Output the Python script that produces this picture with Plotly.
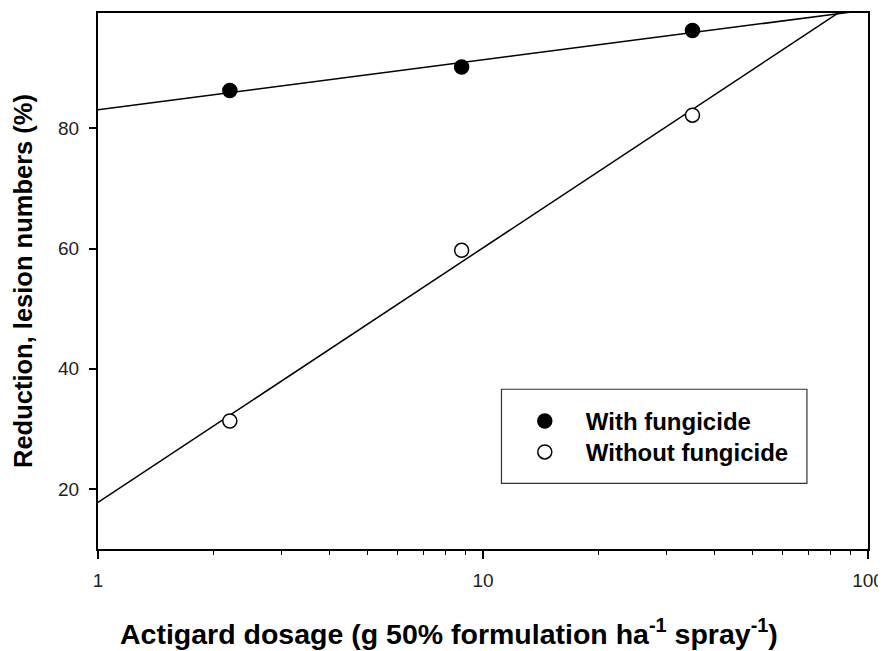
import numpy as np
import plotly.graph_objects as go

# Data
dosage = [2.2, 8.8, 35]
with_fungicide = [86.3, 90.2, 96.3]
without_fungicide = [31.3, 59.7, 82.2]
x_tickvals = [1, 10, 100]
x_ticktext = ["1", "10", "100"]
x_minor_ticks = [2, 3, 4, 5, 6, 7, 8, 9, 20, 30, 40, 50, 60, 70, 80, 90]
y_tickvals = [20, 40, 60, 80]
x_title = "Actigard dosage (g 50% formulation ha<sup>-1</sup> spray<sup>-1</sup>)"
y_title = "Reduction, lesion numbers (%)"

FONT = "Liberation Sans, Arial, sans-serif"

def fit_line(x, y):
    lx = np.log10(np.array(x, dtype=float))
    slope, intercept = np.polyfit(lx, np.array(y, dtype=float), 1)
    xs = np.array([1.0, 100.0])
    return xs, intercept + slope * np.log10(xs)

fig = go.Figure()

for ys in (with_fungicide, without_fungicide):
    lx, ly = fit_line(dosage, ys)
    fig.add_trace(go.Scatter(x=lx, y=ly, mode="lines", line=dict(color="black", width=1.5),
                             showlegend=False, hoverinfo="skip"))

fig.add_trace(go.Scatter(x=dosage, y=with_fungicide, mode="markers", name="With fungicide",
                         legend="legend",
                         marker=dict(symbol="circle", size=14, color="black",
                                     line=dict(color="black", width=1.5)), cliponaxis=False))
fig.add_trace(go.Scatter(x=dosage, y=without_fungicide, mode="markers", name="Without fungicide",
                         legend="legend2",
                         marker=dict(symbol="circle", size=14, color="white",
                                     line=dict(color="black", width=1.5)), cliponaxis=False))

# legend box
fig.add_shape(type="rect", xref="paper", yref="paper", x0=0.524, x1=0.9207, y0=0.1226, y1=0.298,
              line=dict(color="#333333", width=1.2), fillcolor="rgba(0,0,0,0)")

# x-axis title (offset left as in the reference)
fig.add_annotation(text=x_title, xref="paper", yref="paper", x=0.4555, y=-0.155,
                   xanchor="center", yanchor="middle", showarrow=False,
                   font=dict(family=FONT, size=28.5, color="black", weight="bold"))

legend_common = dict(xanchor="left", yanchor="middle", bgcolor="rgba(0,0,0,0)", borderwidth=0,
                     font=dict(family=FONT, size=24, color="black", weight="bold"),
                     itemwidth=72)

# the page body adds an 8px offset, so the figure is 8px smaller and margins compensate
fig.update_layout(
    width=878, height=643,
    margin=dict(l=90, r=18, t=5, b=102),
    paper_bgcolor="white", plot_bgcolor="white",
    font=dict(family=FONT, color="black", size=19),
    legend=dict(x=0.527, y=0.2382, **legend_common),
    legend2=dict(x=0.527, y=0.1804, **legend_common),
    showlegend=True,
)

fig.update_xaxes(
    type="log", range=[0, 2], automargin=False,
    tickvals=x_tickvals, ticktext=x_ticktext,
    ticks="outside", ticklen=8, tickwidth=1.5, tickcolor="black",
    ticklabelstandoff=5,
    minor=dict(tickmode="array", tickvals=x_minor_ticks, ticks="outside", ticklen=4,
               tickwidth=1.2, tickcolor="black", showgrid=False),
    showline=True, linecolor="black", linewidth=2, mirror=True,
    showgrid=False, zeroline=False,
    tickfont=dict(family=FONT, size=19, color="#222222"),
)
fig.update_yaxes(
    range=[10, 99.2], automargin=False,
    tickvals=y_tickvals,
    ticks="outside", ticklen=7, tickwidth=1.5, tickcolor="black",
    ticklabelstandoff=6,
    showline=True, linecolor="black", linewidth=2, mirror=True,
    showgrid=False, zeroline=False,
    tickfont=dict(family=FONT, size=19, color="#222222"),
    title=dict(text=y_title,
               font=dict(family=FONT, size=25.5, color="black", weight="bold"), standoff=18),
)

fig.write_html("out.html")
